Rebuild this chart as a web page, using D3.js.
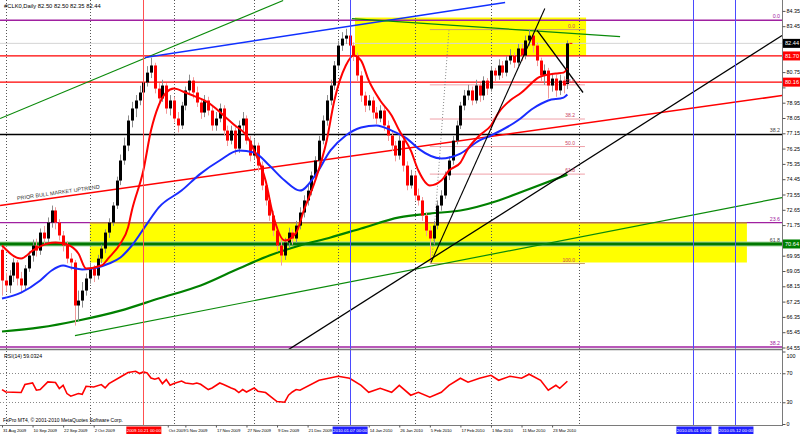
<!DOCTYPE html>
<html><head><meta charset="utf-8">
<script src="https://cdn.jsdelivr.net/npm/d3@7"></script>
<style>body{margin:0;background:#fff}svg{display:block;font-family:"Liberation Sans",Arial,sans-serif}</style>
</head><body><svg id="c" width="800" height="434"></svg>
<script>
// ---------------- DATA ----------------
const headerText = "#CLK0,Daily  82.50 82.50 82.35 82.44";
const rsiTitle = "RSI(14) 59.0324";
const copyright = "FxPro MT4, \u00a9 2001-2010 MetaQuotes Software Corp.";
const barOpen = [70.30,68.49,68.20,68.78,69.55,68.61,68.20,69.20,69.96,70.55,70.25,71.31,70.96,71.90,72.61,71.90,71.14,70.55,69.78,69.55,67.02,67.31,67.90,68.61,69.20,68.78,69.78,70.37,71.31,71.90,72.90,74.37,75.55,76.43,77.90,78.61,79.08,79.55,80.14,80.72,81.14,79.78,79.20,79.96,78.61,79.08,78.02,77.61,78.78,79.67,80.25,79.55,78.96,78.37,79.08,78.49,77.61,78.02,78.61,77.31,76.72,77.31,76.25,77.61,78.02,76.72,75.84,76.43,75.25,74.08,73.20,72.31,71.43,70.55,69.96,70.72,71.31,70.96,71.72,72.49,73.20,73.78,74.67,75.55,76.72,77.90,79.08,79.96,81.14,82.31,82.72,82.90,82.31,81.72,80.55,79.37,78.78,79.08,78.37,78.02,78.49,77.61,77.02,76.43,75.84,76.72,75.25,74.08,74.67,73.49,73.20,72.31,71.43,70.96,71.72,72.90,73.49,74.67,75.55,76.72,77.61,78.78,79.37,79.67,79.08,79.96,79.37,80.25,79.78,80.84,80.55,81.14,80.72,81.43,81.72,81.31,82.14,81.72,82.61,82.90,82.31,81.43,80.55,80.84,79.96,80.37,79.67,80.25,80.05];
const barHigh = [70.55,68.95,69.10,69.80,69.70,69.00,69.40,70.20,70.90,70.95,71.55,71.70,72.20,72.90,72.80,72.10,71.40,70.80,70.10,69.70,67.90,68.40,68.90,69.55,69.40,70.00,70.60,71.50,72.15,73.10,74.60,75.90,76.90,78.20,79.00,79.40,79.95,80.50,81.10,81.60,81.30,80.10,80.30,80.10,79.40,79.30,78.40,79.00,79.90,80.60,80.45,79.90,79.20,79.40,79.30,78.70,78.40,78.90,78.80,77.60,77.60,77.50,77.90,78.40,78.20,77.00,76.80,76.60,75.50,74.30,73.50,72.60,71.70,70.90,71.00,71.60,71.50,72.00,72.80,73.50,74.10,74.90,75.80,77.00,78.20,79.40,80.30,81.40,82.60,83.10,83.30,83.10,82.50,81.90,80.80,79.60,79.40,79.30,78.70,78.80,78.70,77.90,77.30,76.70,77.00,76.90,75.50,75.00,74.90,73.90,73.40,72.50,71.70,72.00,73.20,73.80,74.90,75.80,77.00,77.90,79.00,79.70,80.00,79.90,80.30,80.10,80.50,80.40,81.10,81.00,81.50,81.40,81.70,82.10,81.90,82.40,82.40,82.90,83.25,83.10,82.50,81.60,81.20,81.00,80.70,80.60,80.60,80.50,82.61];
const barLow = [67.60,67.85,67.75,68.40,68.20,67.80,67.90,69.00,69.60,69.90,70.00,70.60,70.70,71.60,71.50,70.85,70.20,69.50,69.10,65.84,66.10,66.90,67.60,68.30,68.40,68.55,69.50,70.10,71.00,71.70,72.70,74.10,75.30,76.10,77.50,78.10,78.80,79.20,79.90,80.40,79.50,78.90,79.00,78.30,78.20,77.80,77.20,77.40,78.50,79.40,79.20,78.70,78.00,78.10,78.20,77.30,77.30,77.80,77.00,76.40,76.50,75.90,76.00,77.30,76.50,75.50,75.60,74.90,73.80,72.90,72.00,71.10,70.20,69.37,69.70,70.40,70.60,70.70,71.50,72.20,72.90,73.50,74.40,75.30,76.50,77.60,78.80,79.70,80.90,82.00,82.40,82.00,81.40,80.20,79.00,78.40,78.50,78.00,77.70,77.80,77.30,76.70,76.10,75.50,75.60,74.90,73.80,73.90,73.20,72.90,72.00,71.10,69.55,70.60,71.50,72.60,73.30,74.40,75.30,76.50,77.40,78.50,79.10,78.80,78.90,79.00,79.10,79.40,79.60,80.20,80.30,80.40,80.50,81.20,81.00,81.10,81.40,81.50,82.30,81.90,81.10,80.20,80.00,79.20,79.60,79.30,79.40,79.50,79.75];
const barClose = [68.49,68.20,68.78,69.55,68.61,68.20,69.20,69.96,70.55,70.25,71.31,70.96,71.90,72.61,71.90,71.14,70.55,69.78,69.55,67.02,67.31,67.90,68.61,69.20,68.78,69.78,70.37,71.31,71.90,72.90,74.37,75.55,76.43,77.90,78.61,79.08,79.55,80.14,80.72,81.14,79.78,79.20,79.96,78.61,79.08,78.02,77.61,78.78,79.67,80.25,79.55,78.96,78.37,79.08,78.49,77.61,78.02,78.61,77.31,76.72,77.31,76.25,77.61,78.02,76.72,75.84,76.43,75.25,74.08,73.20,72.31,71.43,70.55,69.96,70.72,71.31,70.96,71.72,72.49,73.20,73.78,74.67,75.55,76.72,77.90,79.08,79.96,81.14,82.31,82.72,82.90,82.31,81.72,80.55,79.37,78.78,79.08,78.37,78.02,78.49,77.61,77.02,76.43,75.84,76.72,75.25,74.08,74.67,73.49,73.20,72.31,71.43,70.96,71.72,72.90,73.49,74.67,75.55,76.72,77.61,78.78,79.37,79.67,79.08,79.96,79.37,80.25,79.78,80.84,80.55,81.14,80.72,81.43,81.72,81.31,82.14,81.72,82.61,82.90,82.31,81.43,80.55,80.84,79.96,80.37,79.67,80.25,79.96,82.44];

// moving averages: [bar index, price]
const redMA = [[0,70.55],[5,69.78],[8,70.25],[12,70.67],[14,70.72],[17,70.61],[20,70.08],[22,69.20],[26,69.37],[28,69.84],[31,70.67],[33,71.61],[34,72.61],[37,74.96],[39,77.31],[41,78.78],[43,79.55],[45,79.78],[48,79.55],[50,79.37],[53,79.08],[56,78.61],[58,78.20],[61,77.61],[64,77.02],[66,76.14],[69,74.37],[71,72.31],[74,70.84],[77,71.31],[79,72.61],[82,74.37],[85,76.73],[87,79.08],[90,81.14],[92,81.73],[94,81.43],[96,80.26],[99,79.08],[102,78.20],[104,77.31],[107,76.14],[109,74.96],[112,74.08],[115,74.37],[117,74.96],[120,75.43],[122,76.25],[125,77.02],[128,77.61],[130,78.37],[133,79.08],[136,79.55],[138,79.96],[140,80.37],[143,80.61],[145,80.67],[147,80.72],[148,80.96]];
const blueMA = [[0,67.43],[5,67.78],[10,68.49],[13,69.08],[16,69.37],[18,69.26],[21,69.14],[25,69.26],[28,69.49],[31,69.84],[34,70.55],[38,71.84],[41,72.78],[47,73.78],[52,74.78],[57,75.55],[62,76.14],[66,76.02],[70,75.25],[74,74.37],[78,73.78],[82,74.67],[86,76.14],[90,77.02],[94,77.49],[98,77.61],[102,77.31],[106,76.84],[109,76.25],[115,75.67],[120,75.96],[125,76.73],[128,77.02],[135,77.90],[139,78.61],[143,79.08],[147,79.25],[148,79.43]];
const greenMA = [[0,65.49],[10,65.73],[20,66.14],[31,66.72],[41,67.43],[52,68.20],[62,69.20],[70,69.96],[78,70.55],[86,71.02],[94,71.55],[104,72.20],[112,72.43],[120,72.61],[130,73.20],[137,73.78],[148,74.72]];

// RSI(14): [bar index, value]
const rsi = [[0,47.5],[1,44.2],[5,43.4],[6,54.4],[8,56.6],[9,46.6],[10,47.5],[12,58.0],[14,57.2],[15,48.9],[16,53.4],[17,42.0],[18,38.3],[20,42.0],[21,41.0],[22,52.0],[24,51.0],[26,54.4],[27,49.7],[28,55.7],[31,64.9],[33,71.0],[35,72.8],[36,69.6],[37,71.8],[38,70.4],[39,63.5],[40,61.7],[41,63.5],[42,55.7],[43,61.2],[44,53.4],[45,55.7],[47,59.3],[48,56.6],[50,55.2],[51,56.6],[52,54.8],[54,47.5],[55,49.7],[57,56.6],[58,54.4],[60,49.7],[61,47.5],[62,43.4],[63,47.5],[64,44.2],[66,49.7],[67,45.2],[69,43.4],[71,35.1],[72,31.0],[74,30.0],[75,39.7],[76,44.2],[77,47.5],[78,46.6],[83,60.3],[88,65.9],[91,63.1],[94,53.4],[96,43.8],[99,49.3],[102,43.8],[104,53.4],[107,39.7],[109,43.8],[112,36.9],[115,43.8],[117,53.4],[120,63.1],[122,57.6],[125,63.1],[128,67.2],[130,60.3],[133,65.9],[136,63.1],[138,68.6],[141,60.3],[143,46.6],[145,53.4],[146,49.3],[148,59.0]];
const rsiLevels = [70, 30];
const rsiTicks = [100, 70, 30, 0];

// axes
const priceTicks = [84.35,83.45,82.55,81.65,80.75,79.85,78.95,78.05,77.15,76.25,75.35,74.45,73.55,72.65,71.75,70.85,69.95,69.05,68.15,67.25,66.35,65.45,64.55];
const dateLabels = ["31 Aug 2009","10 Sep 2009","22 Sep 2009","2 Oct 2009","Oct 2009","5 Nov 2009","17 Nov 2009","27 Nov 2009","9 Dec 2009","21 Dec 2009","14 Jan 2010","26 Jan 2010","5 Feb 2010","17 Feb 2010","1 Mar 2010","11 Mar 2010","23 Mar 2010"];
const dateLabelIdx = [0,8,16,24,43.4,48,56,64,72,80,96,104,112,120,128,136,144];
const monthStartIdx = [1,23,45,66,88,108,128,151,181];
const eventIdx = [37, 91, 181, 192];
const eventLabels = ["2009.10.21 00:00","2010.01.07 00:00","2010.05.01 00:00","2010.05.12 00:00"];

// horizontal levels
const bidPrice = 82.44;
const redLevels = [81.70, 80.16];
const redLevelLabels = ["81.70","80.16"];
const blackLevel = 77.08;
const greenLevel = 70.64;
const greenLevelLabel = "70.64";
const purpleFib = [[83.80,"0.0"],[71.90,"23.6"],[64.58,"38.2"]];
const darkFibLabels = [[77.08,"38.2"],[70.64,"61.8"]];
const smallFibLevels = [[83.25,"0.0"],[80.00,"23.6"],[77.99,"38.2"],[76.37,"50.0"],[74.75,"61.8"],[69.49,"100.0"]];
const smallFibRange = [112, 152.6];
// yellow zones: [i1, i2, pTop, pBottom]
const zones = [[92.4,152.9,83.96,81.72],[23.0,195.0,71.90,69.55]];
// trendlines: [i1,p1,i2,p2]
const trendGreenUpper = [-0.5,78.02,73.6,84.96];
const trendBlue = [37.4,81.61,131.7,84.84];
const trendGreenDown = [91.6,83.90,161.8,82.84];
const trendRedBull = [-0.5,72.90,204.2,79.37];
const trendBlackLong = [74.6,64.37,204.2,82.90];
const trendBlackSteep = [112.3,69.55,142.1,84.49];
const trendBlackDown = [140.1,83.20,152.1,79.55];
const trendGreenLower = [19.1,65.25,204.2,73.37];
const trendDotted = [112.6,69.78,117.0,83.20];
const bullText = "PRIOR BULL MARKET UPTREND";

// ---------------- DRAW ----------------
const svg = d3.select("#c");
const AX = 782, MAIN_B = 349, RSI_T = 351, RSI_B = 425;
const x = d3.scaleLinear().domain([0, 148]).range([2, 2 + 148 * 3.82]);
const y = d3.scaleLinear().domain([64.55, 84.35]).range([347.5, 10.9]);
const yr = d3.scaleLinear().domain([0, 100]).range([424, 351.5]);

const defs = svg.append("defs");
defs.append("clipPath").attr("id","cm").append("rect").attr("x",0).attr("y",0).attr("width",AX).attr("height",MAIN_B);
defs.append("clipPath").attr("id","cr").append("rect").attr("x",0).attr("y",RSI_T).attr("width",AX).attr("height",RSI_B-RSI_T);

svg.append("rect").attr("width",800).attr("height",434).attr("fill","#fff");
const gm = svg.append("g").attr("clip-path","url(#cm)");
const gr = svg.append("g").attr("clip-path","url(#cr)");

// yellow zones
gm.selectAll("rect.zone").data(zones).join("rect")
  .attr("x", d=>x(d[0])).attr("width", d=>x(d[1])-x(d[0]))
  .attr("y", d=>y(d[2])).attr("height", d=>y(d[3])-y(d[2]))
  .attr("fill","#ffff00");

// month grid
[gm, gr].forEach(g => g.selectAll("line.grid").data(monthStartIdx).join("line")
  .attr("x1", d=>Math.round(x(d))+0.5).attr("x2", d=>Math.round(x(d))+0.5)
  .attr("y1",0).attr("y2",434).attr("stroke","#555").attr("stroke-width",1).attr("stroke-dasharray","1,2"));

// RSI levels
gr.selectAll("line.lv").data(rsiLevels).join("line")
  .attr("x1",0).attr("x2",AX).attr("y1",d=>Math.round(yr(d))+0.5).attr("y2",d=>Math.round(yr(d))+0.5)
  .attr("stroke","#888").attr("stroke-dasharray","1,2");

// horizontal levels
const hline = (p, color, w, x1, x2) => gm.append("line")
  .attr("x1", x1 ?? 0).attr("x2", x2 ?? AX).attr("y1", y(p)).attr("y2", y(p))
  .attr("stroke", color).attr("stroke-width", w);
hline(bidPrice, "#d4d4d4", 1);
purpleFib.forEach(d => hline(d[0], "#a020a0", 1.3));
hline(zones[1][2], "#b07050", 1.3, x(zones[1][0]), x(zones[1][1]));
redLevels.forEach(p => hline(p, "#ff0000", 1.3));
hline(blackLevel, "#000", 1.3);
hline(greenLevel, "#a8d8a8", 5);
hline(greenLevel, "#007800", 3);
smallFibLevels.forEach((d,k) => hline(d[0], k===0||k===5 ? "#c8a070" : "#f0a0a8", 1, x(smallFibRange[0]), x(smallFibRange[1])));

// trendlines
const tl = (t, color, w, dash) => gm.append("line")
  .attr("x1", x(t[0])).attr("y1", y(t[1])).attr("x2", x(t[2])).attr("y2", y(t[3]))
  .attr("stroke", color).attr("stroke-width", w).attr("stroke-dasharray", dash || null);
tl(trendGreenUpper, "#0a8a0a", 1.2);
tl(trendBlue, "#1030ff", 1.5);
tl(trendGreenDown, "#0a8a0a", 1.2);
tl(trendRedBull, "#ff0000", 1.5);
tl(trendGreenLower, "#0a8a0a", 1.2);
tl(trendDotted, "#888", 1, "1,2");

const lineGen = d3.line().x(d=>x(d[0])).y(d=>y(d[1])).curve(d3.curveMonotoneX);
gm.append("path").attr("d", lineGen(greenMA)).attr("fill","none").attr("stroke","#008000").attr("stroke-width",2.2);

// candles
const bars = d3.range(barClose.length);
gm.selectAll("line.wick").data(bars).join("line")
  .attr("x1", i=>Math.round(x(i))+0.5).attr("x2", i=>Math.round(x(i))+0.5)
  .attr("y1", i=>y(barHigh[i])).attr("y2", i=>y(barLow[i]))
  .attr("stroke", i=> barClose[i] >= barOpen[i] ? "#8c8c8c" : "#f29a9a").attr("stroke-width",1);
gm.selectAll("rect.body").data(bars).join("rect")
  .attr("x", i=>Math.round(x(i))-1).attr("width",3)
  .attr("y", i=>y(Math.max(barOpen[i],barClose[i])))
  .attr("height", i=>Math.max(1, Math.abs(y(barOpen[i])-y(barClose[i]))))
  .attr("fill", i=> barClose[i] >= barOpen[i] ? "#000" : "#ff0000");

gm.append("path").attr("d", lineGen(blueMA)).attr("fill","none").attr("stroke","#1a2cff").attr("stroke-width",2);
gm.append("path").attr("d", lineGen(redMA)).attr("fill","none").attr("stroke","#ff0000").attr("stroke-width",2);

tl(trendBlackLong, "#000", 1.3);
tl(trendBlackSteep, "#000", 1.1);
tl(trendBlackDown, "#000", 1.3);

// current price marker
gm.append("line").attr("x1", x(148)+2).attr("x2", x(148)+5).attr("y1", y(bidPrice)).attr("y2", y(bidPrice)).attr("stroke","#ff0000").attr("stroke-width",1);

// RSI line
gr.append("path").attr("d", d3.line().x(d=>x(d[0])).y(d=>yr(d[1])).curve(d3.curveLinear)(rsi))
  .attr("fill","none").attr("stroke","#ff0000").attr("stroke-width",1.6);

// event verticals
const evColor = ["#ff5050","#4a4aff","#4a4aff","#4a4aff"];
eventIdx.forEach((e,k) => {
  svg.append("line").attr("x1", Math.round(x(e))+0.5).attr("x2", Math.round(x(e))+0.5)
    .attr("y1",0).attr("y2",RSI_B).attr("stroke", evColor[k]).attr("stroke-width",1);
});

// panel frames
svg.append("line").attr("x1",0).attr("x2",AX).attr("y1",MAIN_B+0.5).attr("y2",MAIN_B+0.5).attr("stroke","#7a7a7a").attr("stroke-width",1.5);
svg.append("line").attr("x1",0).attr("x2",AX).attr("y1",RSI_B+0.5).attr("y2",RSI_B+0.5).attr("stroke","#7a7a7a").attr("stroke-width",1);
svg.append("line").attr("x1",AX+0.5).attr("x2",AX+0.5).attr("y1",0).attr("y2",RSI_B+1).attr("stroke","#7a7a7a").attr("stroke-width",1);

// price axis (labels under the coloured price boxes are hidden, as on the terminal)
const boxPrices = [bidPrice, ...redLevels, greenLevel];
const ya = svg.append("g").attr("transform",`translate(${AX+0.5},0)`)
  .call(d3.axisRight(y).tickValues(priceTicks).tickSize(3).tickFormat(d3.format(".2f")));
ya.select(".domain").remove();
ya.selectAll("text").attr("font-size","5.4px").attr("fill","#000").attr("x",4).attr("dy","0.3em").attr("font-family","Liberation Sans, Arial, sans-serif")
  .attr("display", d => boxPrices.some(b => Math.abs(y(b)-y(d)) < 8) ? "none" : null);
ya.selectAll("line").attr("stroke","#555");

// RSI axis
const ra = svg.append("g").attr("transform",`translate(${AX+0.5},0)`)
  .call(d3.axisRight(yr).tickValues(rsiTicks).tickSize(3).tickFormat(d3.format("d")));
ra.select(".domain").remove();
ra.selectAll("text").attr("font-size","5.4px").attr("fill","#000").attr("x",4).attr("font-family","Liberation Sans, Arial, sans-serif")
  .attr("dy", d => d === 100 ? "1.05em" : "0.3em");
ra.selectAll("line").attr("stroke","#555");

// price boxes
const pbox = (p, label, bg) => {
  svg.append("rect").attr("x",AX+1).attr("y",y(p)-4.5).attr("width",800-AX-1).attr("height",9).attr("fill",bg);
  svg.append("text").attr("x",AX+3).attr("y",y(p)+2).attr("font-size","5.6px").attr("fill","#fff").text(label);
};
pbox(bidPrice, d3.format(".2f")(bidPrice), "#000");
redLevels.forEach((p,k) => pbox(p, redLevelLabels[k], "#ff0000"));
pbox(greenLevel, greenLevelLabel, "#008000");

// date axis
const xa = svg.append("g").attr("transform",`translate(0,${RSI_B+0.5})`)
  .call(d3.axisBottom(x).tickValues(dateLabelIdx).tickSize(2).tickFormat((d,k)=>dateLabels[k]));
xa.select(".domain").remove();
xa.selectAll("text").attr("font-size","4.3px").attr("letter-spacing","-0.1px").attr("fill","#000").attr("text-anchor","start").attr("dx","0.5").attr("y",3.5).attr("font-family","Liberation Sans, Arial, sans-serif");
xa.selectAll("line").attr("stroke","#555");

// event label boxes
eventIdx.forEach((e,k) => {
  const cx = x(e);
  svg.append("rect").attr("x",cx-17).attr("y",RSI_B+1.5).attr("width",35).attr("height",7.5)
    .attr("fill", k===0 ? "#ff0000" : "#2020ff");
  svg.append("text").attr("x",cx+0.5).attr("y",RSI_B+7.2).attr("text-anchor","middle").attr("font-size","4.4px").attr("fill","#fff").text(eventLabels[k]);
});

// fib labels
purpleFib.forEach(d => svg.append("text").attr("x",780).attr("y",y(d[0])-2).attr("text-anchor","end").attr("font-size","5.3px").attr("fill","#a020a0").text(d[1]));
darkFibLabels.forEach(d => svg.append("text").attr("x",780).attr("y",y(d[0])-2).attr("text-anchor","end").attr("font-size","5.3px").attr("fill","#444").text(d[1]));
smallFibLevels.forEach(d => svg.append("text").attr("x",x(smallFibRange[1])-10).attr("y",y(d[0])-2).attr("text-anchor","end").attr("font-size","5px").attr("fill","#c84060").text(d[1]));

// texts
svg.append("text").attr("x",4).attr("y",8).attr("font-size","5.8px").attr("fill","#000").text(headerText);
svg.append("text").attr("x",4).attr("y",358).attr("font-size","5.2px").attr("fill","#000").text(rsiTitle);
svg.append("text").attr("x",3).attr("y",422).attr("font-size","5px").attr("fill","#000").text(copyright);
const tx0 = x(4), ty0 = y(trendRedBull[1] + (trendRedBull[3]-trendRedBull[1])*(4-trendRedBull[0])/(trendRedBull[2]-trendRedBull[0])) - 3;
const ang = Math.atan2(y(trendRedBull[3])-y(trendRedBull[1]), x(trendRedBull[2])-x(trendRedBull[0])) * 180/Math.PI;
svg.append("text").attr("transform",`translate(${tx0},${ty0}) rotate(${ang})`).attr("font-size","5.4px").attr("fill","#333").text(bullText);
</script>
</body></html>
